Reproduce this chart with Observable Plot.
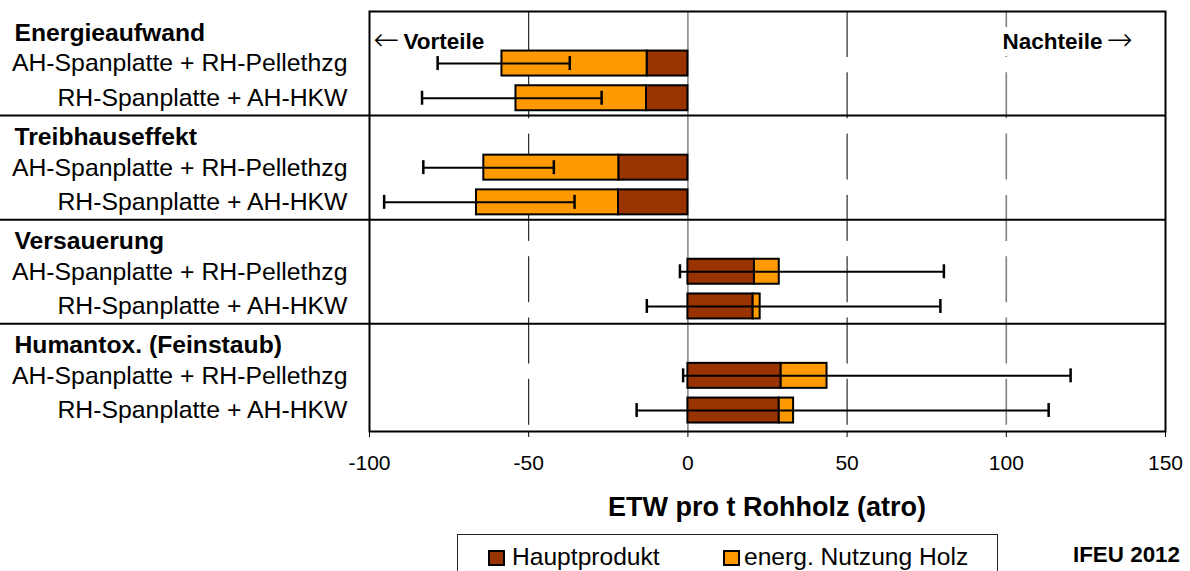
<!DOCTYPE html>
<html>
<head>
<meta charset="utf-8">
<script src="https://cdn.jsdelivr.net/npm/d3@7"></script>
<script src="https://cdn.jsdelivr.net/npm/@observablehq/plot@0.6"></script>
<style>
  html, body { margin: 0; padding: 0; background: #fff; }
  body { width: 1190px; height: 571px; position: relative; overflow: hidden;
         font-family: "Liberation Sans", Arial, sans-serif; color: #000; }
  #chart { position: absolute; left: 0; top: 0; }
  .title { position: absolute; left: 369px; width: 796px; top: 494px; text-align: center;
           font-weight: bold; font-size: 27px; line-height: 27px; }
  .legend { position: absolute; left: 457px; top: 534px; width: 541px; height: 60px;
            border: 1px solid #222; box-sizing: border-box; }
  .legend .sw { position: absolute; top: 15px; width: 17px; height: 16px; box-sizing: border-box;
                border: 2px solid #000; }
  .legend .lb { position: absolute; top: 10px; font-size: 24.6px; line-height: 24.6px; white-space: nowrap; }
  .credit { position: absolute; right: 10px; top: 544px; font-weight: bold; font-size: 22.4px; line-height: 22.4px; }
</style>
</head>
<body>
<div id="chart"></div>
<script>
// ---- data ----
const groups = ["Energieaufwand", "Treibhauseffekt", "Versauerung", "Humantox. (Feinstaub)"];
const variants = ["AH-Spanplatte + RH-Pellethzg", "RH-Spanplatte + AH-HKW"];
const series = ["Hauptprodukt", "energ. Nutzung Holz"];
const seriesColors = ["#993300", "#FF9900"];
// one value per (group, variant), in order
const hauptprodukt = [-12.8, -13.0, -21.7, -21.8, 20.9, 20.5, 29.3, 28.7];
const energNutzung = [-45.6, -41.0, -42.4, -44.6, 7.8, 2.2, 14.4, 4.5];
const errLow  = [-78.6, -83.5, -83.1, -95.4, -2.5, -12.9, -1.5, -16.1];
const errHigh = [-37.1, -27.1, -42.1, -35.6, 80.4, 79.3, 120.2, 113.3];
const xTicks = [-100, -50, 0, 50, 100, 150];
const gridBlack = [-50, 50];
const gridGray = [100];
const noteLeft = "Vorteile";
const noteRight = "Nachteile";
const arrowLeft = "←";
const arrowRight = "→";
const xTitle = "ETW pro t Rohholz (atro)";
const credit = "IFEU 2012";

// ---- derived tables ----
const key = (g, v) => g + " | " + v;
const yDomain = [];
const rows = [];
groups.forEach((g, gi) => {
  yDomain.push(g);
  variants.forEach((v, vi) => {
    const i = gi * variants.length + vi;
    yDomain.push(key(g, v));
    rows.push({key: key(g, v), group: g, variant: v, h: hauptprodukt[i], e: energNutzung[i], lo: errLow[i], hi: errHigh[i]});
  });
});
const segments = rows.flatMap(r => [
  {key: r.key, series: series[0], x1: 0, x2: r.h},
  {key: r.key, series: series[1], x1: r.h, x2: r.h + r.e}
]);

const chart = Plot.plot({
  width: 1190,
  height: 490,
  marginLeft: 369,
  marginRight: 25,
  marginTop: 11,
  marginBottom: 59,
  style: {fontFamily: "'Liberation Sans', Arial, sans-serif", fontSize: "21px", color: "#000", background: "#fff", overflow: "visible"},
  x: {domain: [-100, 150], ticks: xTicks, tickSize: 6, tickPadding: 18, tickFormat: d => String(d), label: null},
  y: {domain: yDomain, range: [11, 427.4], paddingInner: 0.28, paddingOuter: 0.14, round: false, axis: null},
  color: {domain: series, range: seriesColors},
  marks: [
    Plot.ruleX(gridBlack, {stroke: "#000", strokeWidth: 1, strokeDasharray: "46,15.3"}),
    Plot.ruleX(gridGray, {stroke: "#808080", strokeWidth: 1.6, strokeDasharray: "46,15.3"}),
    Plot.ruleX([0], {stroke: "#808080", strokeWidth: 1.5}),
    Plot.barX(segments, {y: "key", x1: "x1", x2: "x2", fill: "series", stroke: "#000", strokeWidth: 2}),
    Plot.ruleY(rows, {y: "key", x1: "lo", x2: "hi", stroke: "#000", strokeWidth: 2}),
    Plot.tickX(rows, {y: "key", x: "lo", stroke: "#000", strokeWidth: 2.5, insetTop: 5.5, insetBottom: 5.5}),
    Plot.tickX(rows, {y: "key", x: "hi", stroke: "#000", strokeWidth: 2.5, insetTop: 5.5, insetBottom: 5.5}),
    Plot.ruleY(groups.slice(1), {y: d => d, dy: -17.35, insetLeft: -369, stroke: "#000", strokeWidth: 2}),
    Plot.frame({stroke: "#000", strokeWidth: 2}),
    Plot.text(groups, {y: d => d, text: d => d, frameAnchor: "left", textAnchor: "start", dx: -355, dy: 4, fontWeight: "bold", fontSize: 24.7}),
    Plot.text(rows, {y: "key", text: "variant", frameAnchor: "left", textAnchor: "end", dx: -22, fontSize: 24.8}),
    // annotations: arrows + words
    Plot.text([arrowLeft], {text: d => d, frameAnchor: "top-left", textAnchor: "start", dx: 4, dy: 16, fontSize: 31, fontFamily: "DejaVu Sans", fontWeight: 200}),
    Plot.text([noteLeft], {text: d => d, frameAnchor: "top-left", textAnchor: "start", dx: 34, dy: 22, fontWeight: "bold", fontSize: 22.5}),
    Plot.text([noteRight], {text: d => d, frameAnchor: "top-right", textAnchor: "end", dx: -63, dy: 22, fontWeight: "bold", fontSize: 22.5, stroke: "#fff", strokeWidth: 14, fill: "#fff"}),
    Plot.text([noteRight], {text: d => d, frameAnchor: "top-right", textAnchor: "end", dx: -63, dy: 22, fontWeight: "bold", fontSize: 22.5}),
    Plot.text([arrowRight], {text: d => d, frameAnchor: "top-right", textAnchor: "end", dx: -33, dy: 16, fontSize: 31, fontFamily: "DejaVu Sans", fontWeight: 200})
  ]
});
document.getElementById("chart").appendChild(chart);

// title, legend, credit below the SVG
const t = document.createElement("div");
t.className = "title"; t.textContent = xTitle;
document.body.appendChild(t);

const lg = document.createElement("div");
lg.className = "legend";
const swLeft = [30, 265], lbLeft = [54, 286];
series.forEach((s, i) => {
  const sw = document.createElement("div");
  sw.className = "sw"; sw.style.left = swLeft[i] + "px"; sw.style.background = seriesColors[i];
  const lb = document.createElement("div");
  lb.className = "lb"; lb.style.left = lbLeft[i] + "px"; lb.textContent = s;
  lg.appendChild(sw); lg.appendChild(lb);
});
document.body.appendChild(lg);

const c = document.createElement("div");
c.className = "credit"; c.textContent = credit;
document.body.appendChild(c);
</script>
</body>
</html>
